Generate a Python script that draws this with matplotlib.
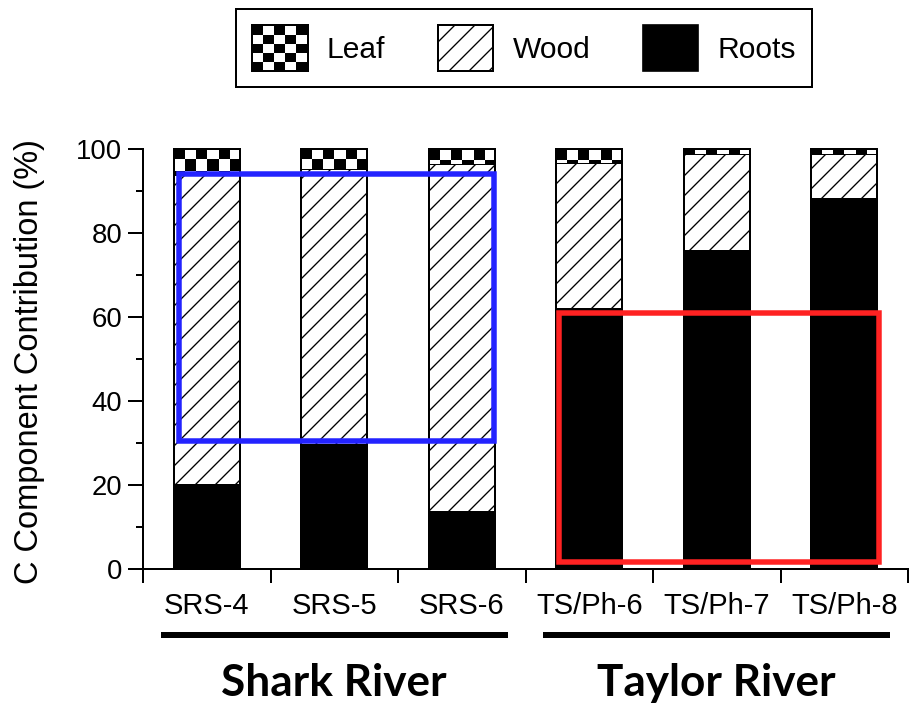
import numpy as np
import matplotlib
matplotlib.use("Agg")
import matplotlib.pyplot as plt
from matplotlib.patches import Patch, Rectangle
from matplotlib.legend_handler import HandlerBase

plt.rcParams['font.family'] = ['Liberation Sans', 'DejaVu Sans']
plt.rcParams['hatch.linewidth'] = 0.8

# Carbon component shares per site (%)
sites = ['SRS-4', 'SRS-5', 'SRS-6', 'TS/Ph-6', 'TS/Ph-7', 'TS/Ph-8']
roots = [20.0, 29.5, 13.6, 61.8, 75.8, 88.0]
wood = [73.8, 65.7, 82.8, 34.9, 23.0, 10.8]
leaf = [6.2, 4.8, 3.6, 3.3, 1.2, 1.2]

groups = ['Shark River', 'Taylor River']
group_centers = [1, 4]

# highlight boxes: (x0, x1, y0, y1) in data units
blue_box = (-0.22, 2.25, 30.5, 94.0)
red_box = (2.76, 5.27, 1.7, 61.0)


class CheckerHandler(HandlerBase):
    """Legend handle drawn as a 5x5 checkerboard."""
    def create_artists(self, legend, orig_handle, xdescent, ydescent,
                       width, height, fontsize, trans):
        x0, y0 = -xdescent, -ydescent
        n = 5
        cw, ch = width / n, height / n
        arts = [Rectangle((x0, y0), width, height, facecolor='white',
                          edgecolor='none', transform=trans)]
        for i in range(n):
            for j in range(n):
                if (i + j) % 2 == 0:
                    arts.append(Rectangle((x0 + j * cw, y0 + height - (i + 1) * ch),
                                          cw, ch, facecolor='black',
                                          edgecolor='none', transform=trans))
        arts.append(Rectangle((x0, y0), width, height, fill=False,
                              edgecolor='black', lw=1.2, transform=trans))
        return arts


def checker_fill(ax, rect, ncols=6, cell_h=2.6):
    # checkerboard image clipped to a bar segment, anchored at its top edge
    x0, y0 = rect.get_x(), rect.get_y()
    w, h = rect.get_width(), rect.get_height()
    nrows = int(np.ceil(h / cell_h))
    ii, jj = np.indices((nrows, ncols))
    board = ((ii + jj) % 2 == 0).astype(float)
    top = y0 + h
    im = ax.imshow(board, cmap='gray_r', vmin=0, vmax=1, interpolation='nearest',
                   extent=(x0, x0 + w, top - nrows * cell_h, top),
                   origin='upper', aspect='auto', zorder=2.5)
    im.set_clip_path(rect)


fig = plt.figure(figsize=(919 / 120, 703 / 120), dpi=120)
ax = fig.add_axes([143 / 919, 1 - 569 / 703, 765 / 919, 420 / 703])

x = np.arange(len(sites))
bw = 0.52
lw = 1.2

ax.bar(x, roots, bw, color='black', edgecolor='black', lw=lw, zorder=2)
ax.bar(x, wood, bw, bottom=roots, color='white', edgecolor='black', hatch='//',
       lw=lw, zorder=2)
leaf_bottom = [r + w for r, w in zip(roots, wood)]
leaf_bars = ax.bar(x, leaf, bw, bottom=leaf_bottom, color='white',
                   edgecolor='black', lw=lw, zorder=2)
for rect in leaf_bars:
    checker_fill(ax, rect, ncols=6, cell_h=2.6)

# outline of each stacked bar
totals = [b + l for b, l in zip(leaf_bottom, leaf)]
ax.bar(x, totals, bw, fill=False, edgecolor='black', lw=lw, zorder=3,
       clip_on=False)

for (bx0, bx1, by0, by1), col in [(blue_box, '#2323ff'), (red_box, '#ff2222')]:
    ax.add_patch(Rectangle((bx0, by0), bx1 - bx0, by1 - by0, fill=False,
                           edgecolor=col, lw=3.3, zorder=4))

ax.set_xlim(-0.5, len(sites) - 0.5)
ax.set_ylim(0, 100)

for side in ['top', 'right']:
    ax.spines[side].set_visible(False)
for side in ['left', 'bottom']:
    ax.spines[side].set_linewidth(1.2)

ax.set_yticks(np.arange(0, 101, 20))
ax.set_yticks(np.arange(10, 100, 20), minor=True)
ax.tick_params(axis='y', which='major', length=9, width=1.2, pad=3.5,
               labelsize=16.5)
ax.tick_params(axis='y', which='minor', length=4.2, width=1.2)

ax.set_xticks(x)
ax.set_xticklabels(sites)
ax.set_xticks(np.arange(-0.5, len(sites), 1.0), minor=True)
ax.tick_params(axis='x', which='major', length=0, pad=13.5, labelsize=17.5)
ax.tick_params(axis='x', which='minor', length=8.4, width=1.2)

ax.set_ylabel('C Component Contribution (%)', fontsize=19.5)
ax.yaxis.set_label_coords(-0.128, 0.495)

# site group underlines and names
xt = ax.get_xaxis_transform()
for c, name in zip(group_centers, groups):
    ax.plot([c - 1.36, c + 1.36], [-0.157, -0.157], color='black', lw=3.6,
            transform=xt, clip_on=False, solid_capstyle='butt')
    ax.text(c, -0.272, name, transform=xt, ha='center', va='center',
            fontsize=26.5, fontweight='bold', family=['Lato', 'DejaVu Sans'])

handles = [
    Patch(facecolor='white', edgecolor='black', label='Leaf'),
    Patch(facecolor='white', edgecolor='black', hatch='//', lw=1.2, label='Wood'),
    Patch(facecolor='black', edgecolor='black', label='Roots'),
]
leg = fig.legend(handles=handles, loc='upper center',
                 bbox_to_anchor=(524 / 919, 1 - 9 / 703), ncol=3,
                 fontsize=18, frameon=True, fancybox=False, framealpha=1,
                 edgecolor='black', handlelength=1.85, handleheight=1.95,
                 handletextpad=0.64, columnspacing=1.75, borderpad=0.55,
                 borderaxespad=0,
                 handler_map={handles[0]: CheckerHandler()})
leg.get_frame().set_linewidth(1.2)

fig.savefig('out.png', dpi=120)
